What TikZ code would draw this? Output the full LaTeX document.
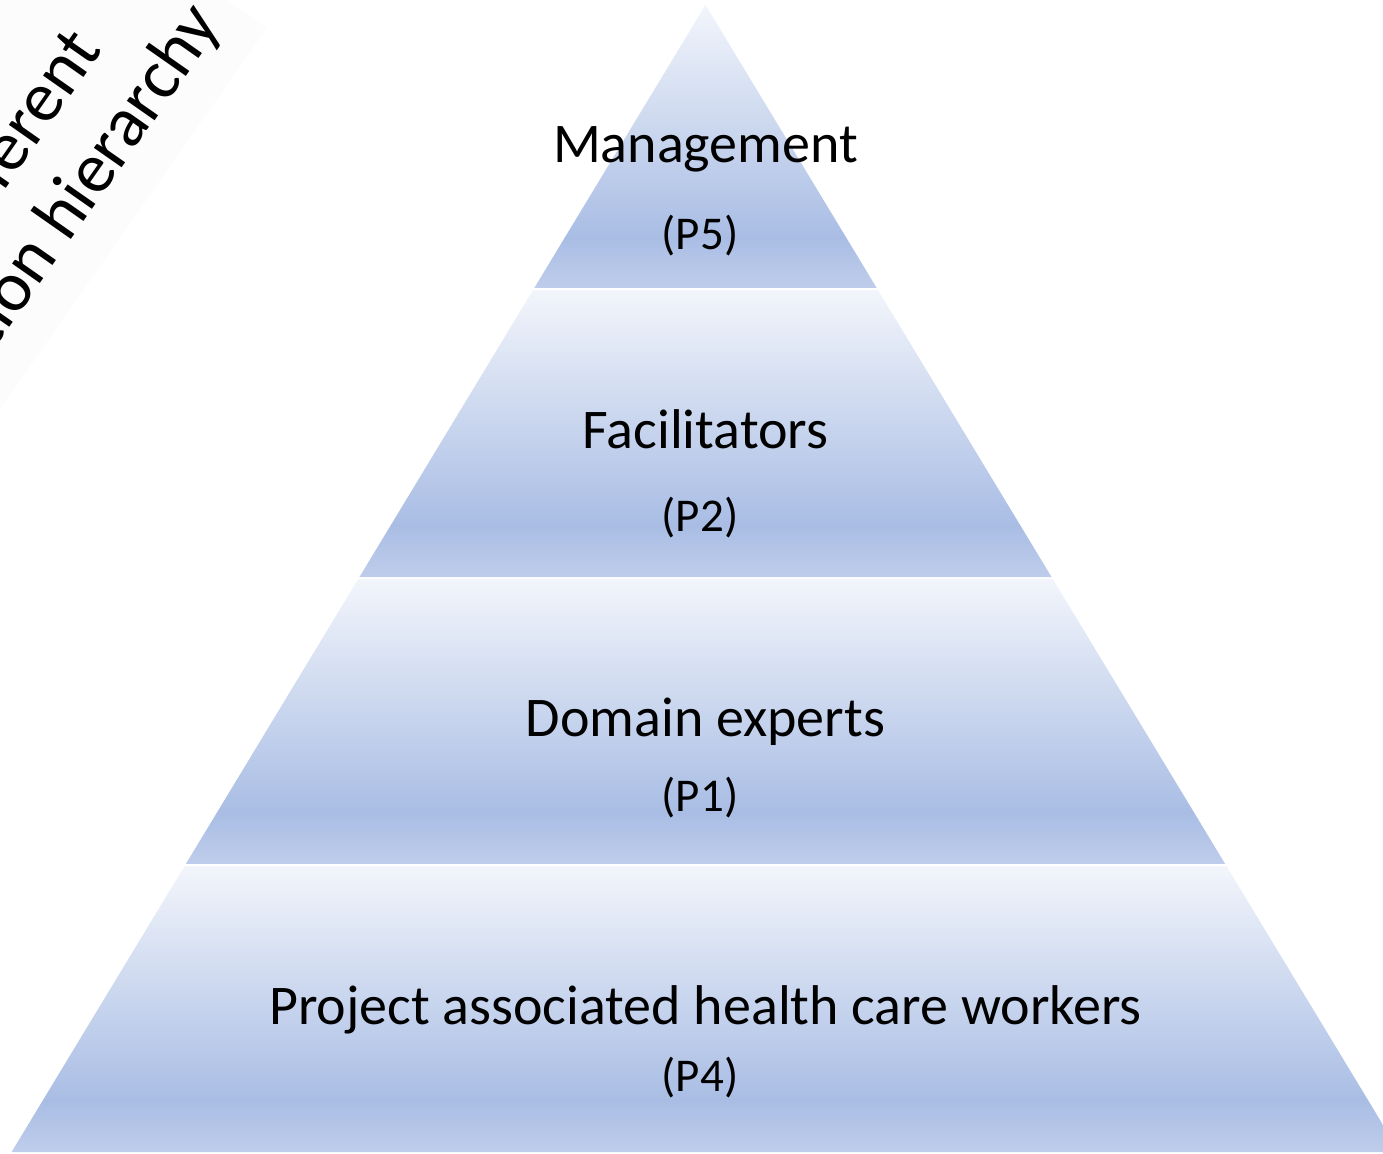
\documentclass[tikz,border=0pt]{standalone}
\usepackage{fontspec}
\setmainfont{Carlito}
\usetikzlibrary{calc}
\usepackage{xcolor}
\definecolor{bandtop}{RGB}{242,245,251}
\definecolor{banddark}{RGB}{169,189,228}
\definecolor{bandlow}{RGB}{191,205,235}
\definecolor{notegray}{RGB}{252,252,252}
\pgfdeclareverticalshading{bandshade}{100bp}{color(0bp)=(bandlow); color(25bp)=(bandlow);
  color(34bp)=(banddark); color(75bp)=(bandtop); color(100bp)=(bandtop)}
\tikzset{
  band/.style  = {shading=bandshade, draw=none},
  tier/.style  = {anchor=base, inner sep=0pt, font=\fontsize{56}{67}\selectfont},
  tag/.style   = {anchor=base, inner sep=0pt, font=\fontsize{47}{56}\selectfont},
  note/.style  = {anchor=base east, inner sep=0pt, rotate=55, font=\fontsize{71}{86}\selectfont},
}

\begin{document}
\begin{tikzpicture}[x=1pt, y=1pt]
  \useasboundingbox (0,0) rectangle (1383,1153);
  \clip (0,0) rectangle (1383,1153);
  % rotated note, cut by the page edge
  \begin{scope}[shift={(0,1153)}, rotate=55]
    \fill[notegray] (-700,-234.7) rectangle (130,120);
    \node[note] (notetop) at (18,-113) {Different};
    \node[note] (notebot) at (108,-196) {position hierarchy};
  \end{scope}
  % pyramid corners
  \coordinate (apex) at (705.5,1148);
  \coordinate (bl) at (11.6,1);
  \coordinate (br) at (1399.4,1);
  % four bands with a thin gap
  \foreach \i/\a/\b in {1/0/0.2467, 2/0.2485/0.4987, 3/0.5004/0.7489, 4/0.7507/1} {
    \shade[band] ($(apex)!\a!(bl)$) -- ($(apex)!\a!(br)$) -- ($(apex)!\b!(br)$) -- ($(apex)!\b!(bl)$) -- cycle;
  }
  % tier names and participant tags
  \foreach \n/\txt/\y in {mgmt/Management/990, facil/Facilitators/704,
                          domain/Domain experts/416, proj/Project associated health care workers/128} {
    \node[tier] (\n) at (705.5,\y) {\txt};
  }
  \foreach \n/\t/\y in {pfive/P5/903, ptwo/P2/621, pone/P1/341, pfour/P4/61} {
    \node[tag] (\n) at (700,\y) {(\t)};
  }
\end{tikzpicture}
\end{document}
